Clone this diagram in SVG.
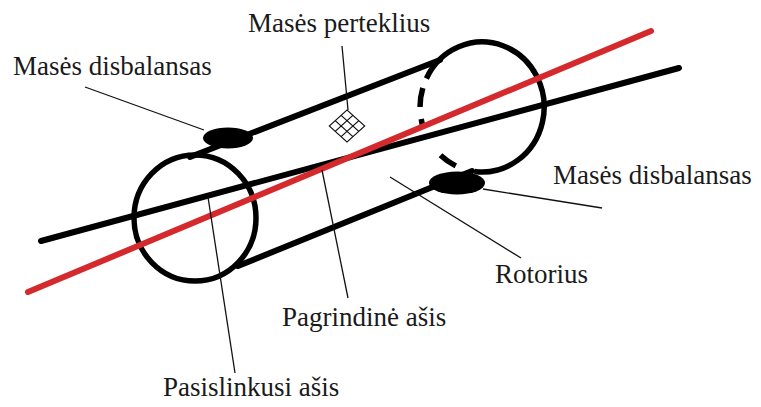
<svg xmlns="http://www.w3.org/2000/svg" width="761" height="407" viewBox="0 0 761 407">
  <style>
    .thick { fill: none; stroke: #000; stroke-width: 6; stroke-linecap: round; }
    .rim { fill: none; stroke: #000; stroke-width: 5.5; }
    .leader { fill: none; stroke: #111; stroke-width: 1.3; }
    .label { font-size: 27px; fill: #1a1a1a; }
    .grid { fill: none; stroke: #111; stroke-width: 1.2; }
  </style>
  <rect width="761" height="407" fill="#fff"/>

  <!-- rotor body: cylinder outline -->
  <g id="rotorius">
    <ellipse cx="195" cy="218" rx="61" ry="63" class="rim"/>
    <!-- visible part of the far end -->
    <path class="rim" d="M 426.4 78.5 A 62 65 0 1 1 474.5 171.5"/>
    <!-- hidden part of the far end, dashed by hand -->
    <path class="rim" d="M 420 107 A 62 65 0 0 1 422.8 88"/>
    <path class="rim" d="M 423 127 A 62 65 0 0 1 421.2 119"/>
    <path class="rim" d="M 455.8 165.9 A 62 65 0 0 1 440.5 155.3"/>
    <line class="thick" x1="190" y1="157" x2="440" y2="60"/>
    <line class="thick" x1="238" y1="266" x2="472" y2="171"/>
  </g>

  <!-- axes -->
  <g id="pasislinkusi-asis">
    <line class="thick" x1="41" y1="241" x2="679" y2="68"/>
  </g>
  <g id="pagrindine-asis">
    <line class="thick" x1="28" y1="292" x2="651" y2="31" style="stroke:#d42a2e"/>
  </g>

  <!-- unbalance masses -->
  <g id="disbalansas-1">
    <ellipse cx="228" cy="138" rx="25" ry="10.5" fill="#000"/>
  </g>
  <g id="disbalansas-2">
    <ellipse cx="457" cy="183" rx="28" ry="11.5" fill="#000"/>
  </g>

  <!-- excess mass marker -->
  <g id="perteklius" transform="translate(347 126) scale(1 0.9) rotate(45)">
    <rect class="grid" x="-12.5" y="-12.5" width="25" height="25"/>
    <path class="grid" d="M -4.2 -12.5 V 12.5 M 4.2 -12.5 V 12.5 M -12.5 -4.2 H 12.5 M -12.5 4.2 H 12.5"/>
  </g>

  <!-- leader lines -->
  <g id="connectors">
    <line class="leader" x1="342" y1="46" x2="348" y2="110"/>
    <line class="leader" x1="85" y1="87" x2="204" y2="130"/>
    <line class="leader" x1="483" y1="189" x2="602" y2="208"/>
    <line class="leader" x1="390" y1="177" x2="521" y2="258"/>
    <line class="leader" x1="322" y1="170" x2="348" y2="298"/>
    <line class="leader" x1="208" y1="197" x2="235" y2="373"/>
  </g>

  <!-- labels -->
  <g id="labels" font-family="'Liberation Serif', 'DejaVu Serif', serif">
    <text class="label" x="248" y="32">Masės perteklius</text>
    <text class="label" x="13" y="75">Masės disbalansas</text>
    <text class="label" x="553" y="184">Masės disbalansas</text>
    <text class="label" x="495" y="283">Rotorius</text>
    <text class="label" x="282" y="326">Pagrindinė ašis</text>
    <text class="label" x="163" y="396">Pasislinkusi ašis</text>
  </g>
</svg>
